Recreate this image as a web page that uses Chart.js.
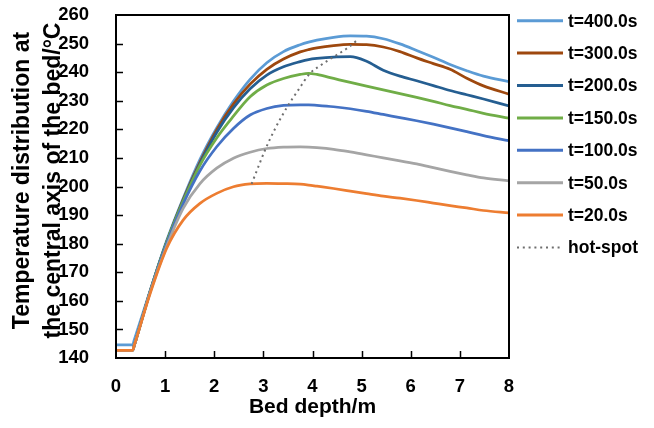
<!DOCTYPE html>
<html><head><meta charset="utf-8">
<script src="https://cdn.jsdelivr.net/npm/chart.js@4.4.1/dist/chart.umd.min.js"></script>
<style>html,body{margin:0;padding:0;background:#fff}#wrap{width:654px;height:428px}</style>
</head><body><div id="wrap"><canvas id="c" width="654" height="428"></canvas></div>
<script>
// ---- data ----
const depth = [0, 0.34, 0.37, 0.7, 1.03, 1.37, 1.71, 2.05, 2.39, 2.73, 3.07, 3.41, 3.75, 3.92, 4.09, 4.43, 4.77, 5.1, 5.44, 5.78, 6.12, 6.46, 6.8, 7.14, 7.48, 8];
const t400 = [144.6, 144.6, 146.2, 163.8, 181.0, 196.0, 209.5, 220.5, 229.8, 237.5, 243.3, 247.2, 249.6, 250.5, 251.2, 252.2, 252.7, 252.6, 251.7, 249.9, 247.6, 245.2, 242.7, 240.5, 238.6, 236.7];
const t300 = [142.7, 142.7, 144.3, 163.6, 180.5, 195.5, 208.5, 219.8, 228.8, 235.8, 241.0, 244.6, 247.1, 247.9, 248.5, 249.3, 249.7, 249.6, 248.8, 247.2, 245.0, 243.0, 241.0, 237.9, 235.2, 232.3];
const t200 = [142.7, 142.7, 144.3, 163.6, 180.5, 195.3, 208.0, 218.9, 227.5, 234.2, 239.0, 241.9, 243.7, 244.4, 244.8, 245.3, 245.4, 243.8, 240.7, 238.6, 237.0, 235.3, 233.6, 232.1, 230.6, 228.2];
const t150 = [142.7, 142.7, 144.3, 163.6, 180.5, 195.0, 207.5, 217.0, 224.6, 231.4, 235.5, 237.8, 239.2, 239.6, 239.2, 237.8, 236.4, 235.1, 233.8, 232.5, 231.2, 229.8, 228.3, 227.0, 225.6, 223.9];
const t100 = [142.7, 142.7, 144.3, 163.5, 180.0, 194.0, 205.5, 213.9, 220.3, 225.0, 227.3, 228.4, 228.6, 228.6, 228.4, 227.9, 227.2, 226.3, 225.2, 224.1, 223.0, 221.8, 220.5, 219.2, 217.8, 216.0];
const t50  = [142.7, 142.7, 144.3, 163.2, 179.0, 192.4, 201.0, 206.4, 209.9, 212.0, 213.3, 213.8, 213.9, 213.8, 213.6, 213.0, 212.1, 211.1, 210.0, 209.0, 207.9, 206.6, 205.3, 204.1, 203.0, 202.0];
const t20  = [142.7, 142.7, 144.3, 162.8, 178.3, 188.3, 194.1, 197.6, 199.9, 200.9, 201.1, 201.0, 200.8, 200.5, 200.1, 199.3, 198.4, 197.5, 196.6, 195.9, 195.1, 194.2, 193.3, 192.5, 191.6, 190.8];
const hotDepth = [2.76, 2.9, 3.03, 3.25, 3.48, 3.72, 3.95, 4.15, 4.36, 4.7, 4.93];
const hotTemp  = [200.9, 207.0, 212.6, 220.6, 227.7, 234.0, 239.6, 242.2, 244.6, 248.3, 251.5];
const seriesLabels = ['t=400.0s', 't=300.0s', 't=200.0s', 't=150.0s', 't=100.0s', 't=50.0s', 't=20.0s', 'hot-spot'];
const seriesColors = ['#5B9BD5', '#9E480E', '#255E91', '#70AD47', '#4472C4', '#A5A5A5', '#ED7D31', '#6E6E6E'];
const xTitle = 'Bed depth/m';
const yTitle = ['Temperature distribution at', 'the central axis of the bed/°C'];
const xMin = 0, xMax = 8, xStep = 1;
const yMin = 140, yMax = 260, yStep = 10;

// ---- build ----
const pts = (xs, ys) => xs.map((x, i) => ({x, y: ys[i]}));
const curves = [t400, t300, t200, t150, t100, t50, t20];
const datasets = curves.map((arr, i) => ({
  label: seriesLabels[i],
  data: pts(depth, arr),
  borderColor: seriesColors[i],
  backgroundColor: seriesColors[i],
  borderWidth: 2.75,
  pointRadius: 0,
  cubicInterpolationMode: 'monotone',
  fill: false,
  order: 7 - i + 1
}));
datasets.push({
  label: seriesLabels[7],
  data: pts(hotDepth, hotTemp),
  borderColor: seriesColors[7],
  backgroundColor: seriesColors[7],
  borderWidth: 2,
  borderDash: [2, 3.8],
  pointRadius: 0,
  cubicInterpolationMode: 'monotone',
  fill: false,
  order: 0
});

const FONT = "'Liberation Sans', Arial, sans-serif";

const framePlugin = {
  id: 'frameAndLegend',
  afterDatasetsDraw(chart) {
    const {ctx, chartArea: a, scales: {x, y}} = chart;
    ctx.save();
    ctx.strokeStyle = '#000';
    ctx.lineWidth = 2;
    ctx.strokeRect(a.left, a.top, a.right - a.left, a.bottom - a.top);
    ctx.lineWidth = 1.5;
    ctx.beginPath();
    y.ticks.forEach(t => {
      if (t.value > yMin && t.value < yMax) {
        const py = Math.round(y.getPixelForValue(t.value)) + 0.5;
        ctx.moveTo(a.left, py); ctx.lineTo(a.left + 7, py);
      }
    });
    x.ticks.forEach(t => {
      if (t.value > xMin && t.value < xMax) {
        const px = Math.round(x.getPixelForValue(t.value)) + 0.5;
        ctx.moveTo(px, a.bottom); ctx.lineTo(px, a.bottom - 7);
      }
    });
    ctx.stroke();
    // y axis title (two lines, rotated)
    ctx.save();
    ctx.translate(23, (a.top + a.bottom) / 2 - 6);
    ctx.rotate(-Math.PI / 2);
    ctx.font = "bold 23px " + FONT;
    ctx.fillStyle = '#000';
    ctx.textAlign = 'center';
    ctx.textBaseline = 'middle';
    yTitle.forEach((line, i) => ctx.fillText(line, 0, i * 30.5));
    ctx.restore();
    // legend
    const lx = a.right + 8, ly = a.top + 5.7, gap = 32.4, len = 46;
    ctx.font = "bold 17.5px " + FONT;
    ctx.textBaseline = 'middle';
    ctx.textAlign = 'left';
    chart.data.datasets.forEach((ds, i) => {
      const yy = ly + i * gap;
      ctx.beginPath();
      ctx.strokeStyle = ds.borderColor;
      ctx.lineWidth = ds.borderDash ? 2 : 3;
      ctx.setLineDash(ds.borderDash || []);
      ctx.moveTo(lx, yy); ctx.lineTo(lx + len, yy);
      ctx.stroke();
      ctx.setLineDash([]);
      ctx.fillStyle = '#000';
      ctx.fillText(ds.label, lx + len + 5, yy + 1);
    });
    ctx.restore();
  }
};

new Chart(document.getElementById('c'), {
  type: 'line',
  data: {datasets},
  options: {
    responsive: false,
    animation: false,
    devicePixelRatio: 1,
    layout: {padding: {left: 0, right: 145, top: 15, bottom: 0}},
    plugins: {legend: {display: false}, tooltip: {enabled: false}},
    scales: {
      x: {
        type: 'linear', min: xMin, max: xMax,
        grid: {display: false}, border: {display: false},
        ticks: {stepSize: xStep, color: '#000', padding: 10, font: {family: FONT, weight: 'bold', size: 18.5}},
        title: {display: true, text: xTitle, color: '#000', padding: {top: 0, bottom: 8}, font: {family: FONT, weight: 'bold', size: 21}},
        afterFit: s => { s.height = 70; s.paddingLeft = 0; s.paddingRight = 0; }
      },
      y: {
        type: 'linear', min: yMin, max: yMax,
        grid: {display: false}, border: {display: false},
        ticks: {stepSize: yStep, color: '#000', padding: 19, font: {family: FONT, weight: 'bold', size: 18.5}},
        title: {display: false},
        afterFit: s => { s.width = 116; s.paddingTop = 0; s.paddingBottom = 0; }
      }
    }
  },
  plugins: [framePlugin]
});
</script>
</body></html>
